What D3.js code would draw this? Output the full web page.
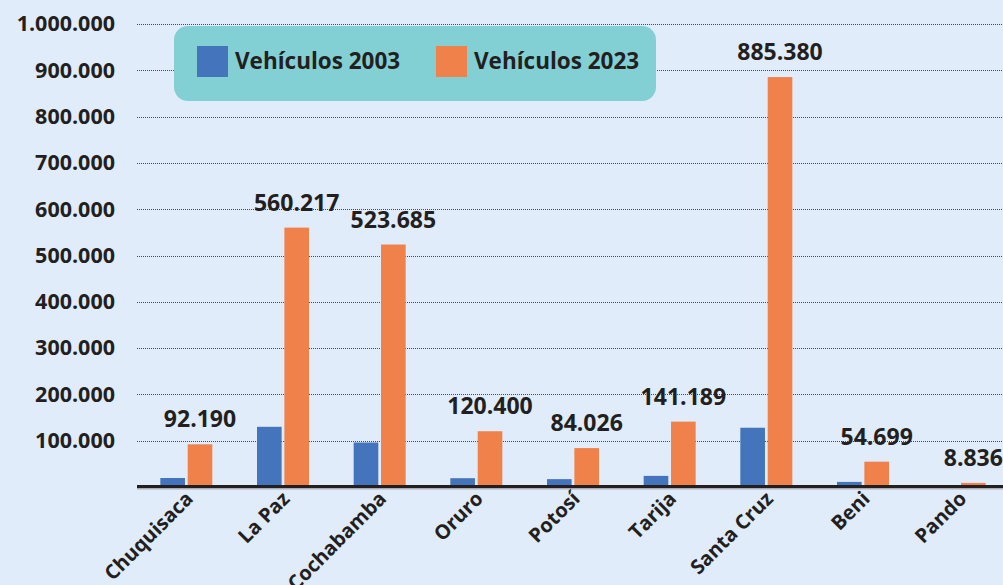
<!DOCTYPE html>
<html>
<head>
<meta charset="utf-8">
<script src="https://cdn.jsdelivr.net/npm/d3@7"></script>
<style>
  body { margin: 0; background: #e0ecf9; overflow: hidden; }
  svg { display: block; font-family: "Open Sans", sans-serif; }
</style>
</head>
<body>
<div id="chart"></div>
<script>
// data
var departamentos = ["Chuquisaca", "La Paz", "Cochabamba", "Oruro", "Potosí", "Tarija", "Santa Cruz", "Beni", "Pando"];
var vehiculos2003 = [19400, 130000, 96000, 19000, 17000, 24000, 128000, 11000, 1000];
var vehiculos2023 = [92190, 560217, 523685, 120400, 84026, 141189, 885380, 54699, 8836];
var seriesNames = ["Vehículos 2003", "Vehículos 2023"];
var yTicks = [100000, 200000, 300000, 400000, 500000, 600000, 700000, 800000, 900000, 1000000];

var width = 1003, height = 585;
var colors = ["#4474bb", "#f0814a"];

// build rows
var rows = departamentos.map(function (d, i) {
   return { name: d, values: [vehiculos2003[i], vehiculos2023[i]] };
});

var fmt = function (v) {
   return d3.format(",")(v).replace(/,/g, ".");
};

var svg = d3.select("#chart")
   .append("svg")
   .attr("width", width)
   .attr("height", height);

// scales
var x0 = d3.scaleBand()
   .domain(departamentos)
   .range([138, 1008]);

var bw = x0.bandwidth();
var x1 = d3.scaleBand()
   .domain([0, 1])
   .range([bw / 2 - 26, bw / 2 + 26])
   .paddingInner(0.1);

var y = d3.scaleLinear()
   .domain([0, 1000000])
   .range([487, 24]);

// dotted grid lines
svg.append("g")
   .selectAll("line")
   .data(yTicks)
   .enter().append("line")
   .attr("x1", 137)
   .attr("x2", width)
   .attr("y1", function (d) { return Math.round(y(d)) + 0.5; })
   .attr("y2", function (d) { return Math.round(y(d)) + 0.5; })
   .style("stroke", "#4a4a4a")
   .style("stroke-width", 1)
   .style("stroke-dasharray", "1,1");

// y axis labels
var yAxis = d3.axisLeft(y)
   .tickValues(yTicks)
   .tickSize(0)
   .tickPadding(0)
   .tickFormat(fmt);

var yg = svg.append("g")
   .attr("transform", "translate(115,0)")
   .call(yAxis);
yg.select(".domain").remove();
yg.selectAll("text")
   .style("font-family", "'Open Sans', sans-serif")
   .style("font-size", "21.5px")
   .style("font-weight", 700)
   .style("fill", "#231f20");

// bars
var groups = svg.selectAll(".grupo")
   .data(rows)
   .enter().append("g")
   .attr("class", "grupo")
   .attr("transform", function (d) { return "translate(" + x0(d.name) + ",0)"; });

groups.selectAll("rect")
   .data(function (d) { return d.values; })
   .enter().append("rect")
   .attr("x", function (d, i) { return x1(i); })
   .attr("y", function (d) { return y(d); })
   .attr("width", x1.bandwidth())
   .attr("height", function (d) { return y(0) - y(d); })
   .style("fill", function (d, i) { return colors[i]; });

// value labels for 2023
groups.append("text")
   .attr("x", x1(1) + x1.bandwidth() / 2)
   .attr("y", function (d) { return y(d.values[1]) - 17; })
   .attr("text-anchor", "middle")
   .style("font-size", "23px")
   .style("font-weight", 700)
   .style("fill", "#231f20")
   .text(function (d) { return fmt(d.values[1]); });

// base line
svg.append("line")
   .attr("x1", 137)
   .attr("x2", width)
   .attr("y1", y(0) + 1)
   .attr("y2", y(0) + 1)
   .style("stroke", "#a9adb3")
   .style("stroke-width", 3);
svg.append("line")
   .attr("x1", 137)
   .attr("x2", width)
   .attr("y1", y(0) - 0.5)
   .attr("y2", y(0) - 0.5)
   .style("stroke", "#231f20")
   .style("stroke-width", 3);

// x labels
svg.append("g")
   .selectAll("text")
   .data(departamentos)
   .enter().append("text")
   .attr("transform", function (d) {
      return "translate(" + (x0(d) + bw / 2 + 8) + ",500) rotate(-45)";
   })
   .attr("text-anchor", "end")
   .style("font-size", "20px")
   .style("font-weight", 700)
   .style("fill", "#231f20")
   .text(function (d) { return d; });

// legend
var legend = svg.append("g");
legend.append("rect")
   .attr("x", 174)
   .attr("y", 26)
   .attr("width", 482)
   .attr("height", 75)
   .attr("rx", 14)
   .style("fill", "#82d0d4");

var legendX = [197, 436];
seriesNames.forEach(function (name, i) {
   legend.append("rect")
      .attr("x", legendX[i])
      .attr("y", 46)
      .attr("width", 31)
      .attr("height", 31)
      .style("fill", colors[i]);
   legend.append("text")
      .attr("x", legendX[i] + 38)
      .attr("y", 69)
      .style("font-size", "22.5px")
      .style("font-weight", 700)
      .style("fill", "#231f20")
      .text(name);
});
</script>
</body>
</html>
